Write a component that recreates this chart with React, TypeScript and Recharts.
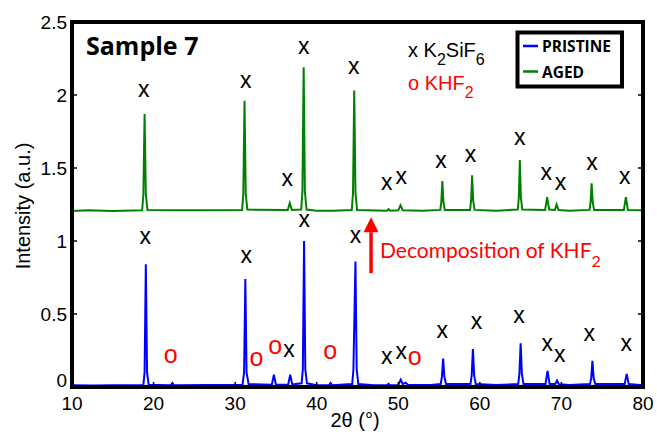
import React from 'react';
import {
  ComposedChart,
  Line,
  Scatter,
  XAxis,
  YAxis,
  ReferenceLine,
} from 'recharts';

// ─── Data ─────────────────────────────────────────────────────────────────────

// [2θ, intensity]
const pristineTrace: [number, number][] = [
  [10, 0.012], [12.5, 0.01], [15, 0.012], [18.75, 0.014], [18.9, 0.1], [19.05, 0.84], [19.2, 0.1], [19.4, 0.015],
  [22.1, 0.012], [22.3, 0.028], [22.5, 0.012], [26.5, 0.014], [30.9, 0.016], [31.1, 0.1], [31.25, 0.74], [31.4, 0.1],
  [31.65, 0.02], [34.5, 0.016], [34.75, 0.085], [35.0, 0.016], [36.5, 0.016], [36.75, 0.085], [37.0, 0.018],
  [38.15, 0.025], [38.3, 0.12], [38.45, 1.0], [38.6, 0.12], [38.8, 0.025], [40.0, 0.012], [41.5, 0.012], [41.7, 0.028],
  [41.9, 0.012], [44.35, 0.02], [44.5, 0.12], [44.75, 0.86], [44.9, 0.12], [45.1, 0.02], [47, 0.012], [48.6, 0.012],
  [48.8, 0.022], [49, 0.012], [50.0, 0.014], [50.3, 0.05], [50.55, 0.02], [50.9, 0.03], [51.2, 0.014], [54, 0.014],
  [55.2, 0.02], [55.35, 0.07], [55.5, 0.195], [55.65, 0.07], [55.85, 0.02], [58.85, 0.02], [59.0, 0.08], [59.15, 0.26],
  [59.3, 0.08], [59.5, 0.02], [62, 0.014], [64.7, 0.02], [64.85, 0.09], [65.0, 0.3], [65.15, 0.09], [65.35, 0.02],
  [68.05, 0.02], [68.3, 0.11], [68.55, 0.02], [69.25, 0.02], [69.45, 0.045], [69.7, 0.018], [71, 0.014], [73.5, 0.02],
  [73.65, 0.06], [73.8, 0.18], [73.95, 0.06], [74.15, 0.02], [77.75, 0.02], [78.0, 0.09], [78.25, 0.02], [80, 0.012],
];

// [2θ, intensity] (offset by ~1.2)
const agedTrace: [number, number][] = [
  [10, 1.205], [12, 1.21], [15, 1.205], [18.6, 1.21], [18.75, 1.32], [18.9, 1.87], [19.05, 1.32], [19.25, 1.212],
  [22.3, 1.21], [26, 1.21], [30.85, 1.212], [31.0, 1.32], [31.15, 1.96], [31.3, 1.32], [31.5, 1.215], [36.45, 1.212],
  [36.7, 1.26], [36.95, 1.212], [38.1, 1.215], [38.25, 1.34], [38.4, 2.19], [38.55, 1.34], [38.75, 1.215], [40, 1.208],
  [42, 1.207], [44.3, 1.212], [44.45, 1.33], [44.6, 2.03], [44.75, 1.33], [44.95, 1.213], [48.6, 1.208], [48.8, 1.218],
  [49.0, 1.208], [50.0, 1.21], [50.27, 1.245], [50.55, 1.21], [53, 1.208], [55.15, 1.213], [55.28, 1.27], [55.4, 1.41],
  [55.53, 1.27], [55.7, 1.213], [58.8, 1.213], [58.93, 1.28], [59.05, 1.45], [59.18, 1.28], [59.35, 1.213], [62, 1.208],
  [64.65, 1.215], [64.78, 1.3], [64.9, 1.555], [65.03, 1.3], [65.2, 1.215], [68.0, 1.212], [68.25, 1.3], [68.5, 1.215],
  [69.2, 1.212], [69.4, 1.25], [69.65, 1.212], [71, 1.208], [73.45, 1.213], [73.58, 1.27], [73.7, 1.395], [73.83, 1.27],
  [74.0, 1.213], [77.65, 1.212], [77.9, 1.3], [78.15, 1.212], [80, 1.21],
];

// peak annotations (K2SiF6 = x, KHF2 = o)
const xMarksAged: [number, number][] = [
  [18.8, 2.03], [31.3, 2.09], [36.4, 1.42], [38.4, 2.32], [44.55, 2.185], [48.6, 1.39], [50.35, 1.43],
  [55.25, 1.54], [58.85, 1.58], [64.9, 1.7], [68.15, 1.46], [69.9, 1.39], [73.76, 1.53], [77.77, 1.43],
];
const xMarksPristine: [number, number][] = [
  [18.98, 1.02], [31.36, 0.89], [36.6, 0.245], [38.47, 1.14], [44.76, 1.03], [48.6, 0.2], [50.35, 0.235],
  [55.4, 0.38], [59.6, 0.44], [64.8, 0.48], [68.25, 0.29], [69.8, 0.21], [73.4, 0.355], [77.95, 0.29],
];
const oMarks: [number, number][] = [
  [22.1, 0.21], [32.6, 0.195], [34.9, 0.275], [41.65, 0.24], [52.0, 0.2],
];

const arrowTheta = 46.66;
const arrowTail = 0.78;
const arrowHeadBase = 1.06;

const xTicks = [10, 20, 30, 40, 50, 60, 70, 80];
const yTicks = [0, 0.5, 1, 1.5, 2, 2.5];

const toPts = (arr: [number, number][]) => arr.map(([x, y]) => ({ x, y }));

// ─── Ticks ────────────────────────────────────────────────────────────────────

const SANS = '"Liberation Sans", Arial, Helvetica, sans-serif';

function BottomTick({ x, y, payload }: any) {
  return (
    <g>
      <line x1={x} x2={x} y1={y} y2={y - 5} stroke="#000" strokeWidth={1.5} />
      <text x={x} y={y + 23} textAnchor="middle" fontSize={19} fontFamily={SANS} fill="#000">
        {payload.value}
      </text>
    </g>
  );
}

function TopTick({ x, y }: any) {
  return <line x1={x} x2={x} y1={y} y2={y + 5} stroke="#000" strokeWidth={1.5} />;
}

function LeftTick({ x, y, payload }: any) {
  // matlab nudges the "0" up so it clears the x labels
  const dy = payload.value === 0 ? 0 : 7;
  return (
    <g>
      <line x1={x} x2={x + 5} y1={y} y2={y} stroke="#000" strokeWidth={1.5} />
      <text x={x - 5} y={y + dy} textAnchor="end" fontSize={19} fontFamily={SANS} fill="#000">
        {payload.value}
      </text>
    </g>
  );
}

function RightTick({ x, y }: any) {
  return <line x1={x} x2={x - 5} y1={y} y2={y} stroke="#000" strokeWidth={1.5} />;
}

function XGlyph({ cx, cy }: any) {
  return (
    <text x={cx} y={cy + 6} textAnchor="middle" fontSize={23} fontFamily={SANS} fill="#000">
      x
    </text>
  );
}

function OGlyph({ cx, cy }: any) {
  return (
    <text x={cx} y={cy + 7} textAnchor="middle" fontSize={25} fontFamily={SANS} fill="#ff0000">
      o
    </text>
  );
}

function ArrowHead({ cx, cy }: any) {
  return <path d={`M${cx - 7.5},${cy} L${cx + 7.5},${cy} L${cx},${cy - 15} Z`} fill="#ff0000" />;
}

// ─── Component ────────────────────────────────────────────────────────────────

export default function App() {
  const frame = { stroke: '#000', strokeWidth: 4, strokeLinecap: 'square' as const };

  return (
    <div style={{ position: 'absolute', left: 0, top: 0, width: 657, height: 435, background: '#fff' }}>
      <ComposedChart
        width={657}
        height={435}
        margin={{ top: 0, right: 0, bottom: 0, left: 0 }}
      >
        <XAxis
          dataKey="x"
          type="number"
          domain={[10, 80]}
          ticks={xTicks}
          height={48}
          tickSize={0}
          tickMargin={0}
          tick={<BottomTick />}
          axisLine={frame}
          allowDataOverflow
        />
        <XAxis
          xAxisId="top"
          orientation="top"
          type="number"
          domain={[10, 80]}
          ticks={xTicks}
          height={22}
          tickSize={0}
          tickMargin={0}
          tick={<TopTick />}
          axisLine={frame}
          allowDataOverflow
        />
        <YAxis
          type="number"
          domain={[0, 2.5]}
          ticks={yTicks}
          width={72}
          tickSize={0}
          tickMargin={0}
          tick={<LeftTick />}
          axisLine={frame}
          allowDataOverflow
        />
        <YAxis
          yAxisId="right"
          orientation="right"
          type="number"
          domain={[0, 2.5]}
          ticks={yTicks}
          width={14}
          tickSize={0}
          tickMargin={0}
          tick={<RightTick />}
          axisLine={frame}
          allowDataOverflow
        />

        <Line
          data={toPts(agedTrace)}
          dataKey="y"
          stroke="#008000"
          strokeWidth={2}
          dot={false}
          type="linear"
          isAnimationActive={false}
        />
        <Line
          data={toPts(pristineTrace)}
          dataKey="y"
          stroke="#0000ff"
          strokeWidth={2}
          dot={false}
          type="linear"
          isAnimationActive={false}
        />

        <ReferenceLine
          segment={[{ x: arrowTheta, y: arrowTail }, { x: arrowTheta, y: arrowHeadBase }]}
          stroke="#ff0000"
          strokeWidth={3.5}
        />
        <Scatter data={[{ x: arrowTheta, y: arrowHeadBase }]} dataKey="y" shape={<ArrowHead />} isAnimationActive={false} />

        <Scatter data={toPts(xMarksAged)} dataKey="y" shape={<XGlyph />} isAnimationActive={false} />
        <Scatter data={toPts(xMarksPristine)} dataKey="y" shape={<XGlyph />} isAnimationActive={false} />
        <Scatter data={toPts(oMarks)} dataKey="y" shape={<OGlyph />} isAnimationActive={false} />
      </ComposedChart>

      {/* Text overlay: title, phase key, legend, axis titles */}
      <svg
        width={657}
        height={435}
        style={{ position: 'absolute', left: 0, top: 0, pointerEvents: 'none' }}
      >
        <text x={86} y={55} fontSize={25} fontWeight={700} fontFamily='"Open Sans", sans-serif' fill="#000">
          Sample 7
        </text>

        <text x={408} y={57} fontSize={20} fontFamily={SANS} fill="#000">
          x K<tspan fontSize={16} dy={8}>2</tspan>
          <tspan dy={-8}>SiF</tspan>
          <tspan fontSize={16} dy={8}>6</tspan>
        </text>
        <text x={408} y={90} fontSize={20} fontFamily={SANS} fill="#ff0000">
          o KHF<tspan fontSize={16} dy={8}>2</tspan>
        </text>

        <rect x={517.5} y={32.5} width={104.5} height={54} fill="#fff" stroke="#000" strokeWidth={4} />
        <line x1={523} x2={538} y1={46} y2={46} stroke="#0000ff" strokeWidth={2.5} />
        <text x={542} y={52} fontSize={15.5} fontWeight={700} fontFamily='"Open Sans", sans-serif' fill="#000">
          PRISTINE
        </text>
        <line x1={523} x2={538} y1={71.5} y2={71.5} stroke="#008000" strokeWidth={2.5} />
        <text x={542} y={77.5} fontSize={15.5} fontWeight={700} fontFamily='"Open Sans", sans-serif' fill="#000">
          AGED
        </text>

        <text x={380} y={258} fontSize={21} fontFamily='Lato, "Open Sans", sans-serif' fill="#ff0000">
          Decomposition of KHF<tspan fontSize={16} dy={9}>2</tspan>
        </text>

        <text
          x={0}
          y={0}
          transform="translate(30,206) rotate(-90)"
          textAnchor="middle"
          fontSize={20}
          fontFamily={SANS}
          fill="#000"
        >
          Intensity (a.u.)
        </text>
        <text x={355} y={427} textAnchor="middle" fontSize={20} fontFamily={SANS} fill="#000">
          2θ (°)
        </text>
      </svg>
    </div>
  );
}
